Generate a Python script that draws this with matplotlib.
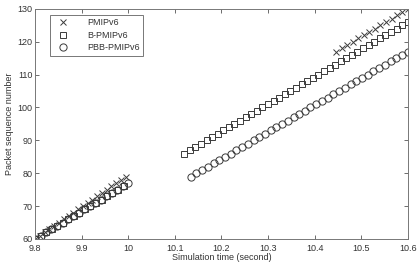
import matplotlib
matplotlib.use("Agg")
import matplotlib.pyplot as plt

plt.rcParams['font.family'] = ['Liberation Sans', 'DejaVu Sans']

# PMIPv6
pm_t1 = [9.800, 9.810, 9.821, 9.831, 9.841, 9.851, 9.862, 9.872, 9.882, 9.892,
         9.903, 9.913, 9.923, 9.933, 9.944, 9.954, 9.964, 9.974, 9.985, 9.995]
pm_s1 = [60, 61, 62, 63, 64, 65, 66, 67, 68, 69, 70, 71, 72, 73, 74, 75, 76, 77, 78, 79]
pm_t2 = [10.446, 10.458, 10.470, 10.482, 10.493, 10.505, 10.517, 10.529, 10.541,
         10.553, 10.565, 10.577, 10.588, 10.600]
pm_s2 = [117, 118, 119, 120, 121, 122, 123, 124, 125, 126, 127, 128, 129, 130]

# B-PMIPv6
b_t1 = [9.800, 9.812, 9.824, 9.836, 9.848, 9.859, 9.871, 9.883, 9.895, 9.907,
        9.919, 9.931, 9.943, 9.954, 9.966, 9.978, 9.990]
b_s1 = [60, 61, 62, 63, 64, 65, 66, 67, 68, 69, 70, 71, 72, 73, 74, 75, 76]
b_t2 = [10.120, 10.132, 10.144, 10.156, 10.168, 10.180, 10.192, 10.204, 10.216, 10.228,
        10.240, 10.252, 10.264, 10.276, 10.288, 10.300, 10.312, 10.324, 10.336, 10.348,
        10.360, 10.372, 10.384, 10.396, 10.408, 10.420, 10.432, 10.444, 10.456, 10.468,
        10.480, 10.492, 10.504, 10.516, 10.528, 10.540, 10.552, 10.564, 10.576, 10.588,
        10.600]
b_s2 = [86, 87, 88, 89, 90, 91, 92, 93, 94, 95, 96, 97, 98, 99, 100, 101, 102, 103,
        104, 105, 106, 107, 108, 109, 110, 111, 112, 113, 114, 115, 116, 117, 118, 119,
        120, 121, 122, 123, 124, 125, 126]

# PBB-PMIPv6
p_t1 = [9.800, 9.812, 9.824, 9.835, 9.847, 9.859, 9.871, 9.882, 9.894, 9.906,
        9.918, 9.929, 9.941, 9.953, 9.965, 9.976, 9.988, 10.000]
p_s1 = [60, 61, 62, 63, 64, 65, 66, 67, 68, 69, 70, 71, 72, 73, 74, 75, 76, 77]
p_t2 = [10.134, 10.146, 10.159, 10.171, 10.183, 10.195, 10.208, 10.220, 10.232, 10.244,
        10.257, 10.269, 10.281, 10.293, 10.306, 10.318, 10.330, 10.342, 10.355, 10.367,
        10.379, 10.391, 10.404, 10.416, 10.428, 10.440, 10.453, 10.465, 10.477, 10.489,
        10.502, 10.514, 10.526, 10.538, 10.551, 10.563, 10.575, 10.588, 10.600]
p_s2 = [79, 80, 81, 82, 83, 84, 85, 86, 87, 88, 89, 90, 91, 92, 93, 94, 95, 96, 97,
        98, 99, 100, 101, 102, 103, 104, 105, 106, 107, 108, 109, 110, 111, 112, 113,
        114, 115, 116, 117]

x_ticks = [9.8, 9.9, 10.0, 10.1, 10.2, 10.3, 10.4, 10.5, 10.6]
x_labels = ['9.8', '9.9', '10', '10.1', '10.2', '10.3', '10.4', '10.5', '10.6']
y_ticks = [60, 70, 80, 90, 100, 110, 120, 130]

fig = plt.figure(figsize=(4.17, 2.62), dpi=100)
ax = fig.add_axes([0.084, 0.088, 0.894, 0.878])

mc = '#3a3a3a'
ax.plot(pm_t1 + pm_t2, pm_s1 + pm_s2, linestyle='none', marker='x', ms=4.5,
        mew=0.7, color=mc, label='PMIPv6')
ax.plot(b_t1 + b_t2, b_s1 + b_s2, linestyle='none', marker='s', ms=4.5,
        mew=0.7, mfc='none', mec=mc, label='B-PMIPv6')
ax.plot(p_t1 + p_t2, p_s1 + p_s2, linestyle='none', marker='o', ms=5.2,
        mew=0.7, mfc='none', mec=mc, label='PBB-PMIPv6')

ax.set_xlim(9.8, 10.6)
ax.set_ylim(60, 130)
ax.set_xticks(x_ticks)
ax.set_xticklabels(x_labels)
ax.set_yticks(y_ticks)
ax.tick_params(direction='in', top=True, right=True, labelsize=6.5,
               length=3, width=0.6, colors='#555555', labelcolor='#333333', pad=2)
ax.tick_params(axis='x', pad=3.5)
for s in ax.spines.values():
    s.set_color('#777777')
    s.set_linewidth(0.7)

ax.set_xlabel('Simulation time (second)', fontsize=6.5, color='#333333', labelpad=0)
ax.set_ylabel('Packet sequence number', fontsize=6.5, color='#333333', labelpad=2)

leg = ax.legend(loc='upper left', bbox_to_anchor=(0.04, 0.975), fontsize=6.5,
                frameon=True, fancybox=False, borderpad=0.4, handletextpad=1.5,
                labelspacing=0.4, handlelength=2.2, borderaxespad=0)
leg.get_frame().set_edgecolor('#555555')
leg.get_frame().set_linewidth(0.7)
for t in leg.get_texts():
    t.set_color('#333333')

fig.savefig('out.png', dpi=100)
